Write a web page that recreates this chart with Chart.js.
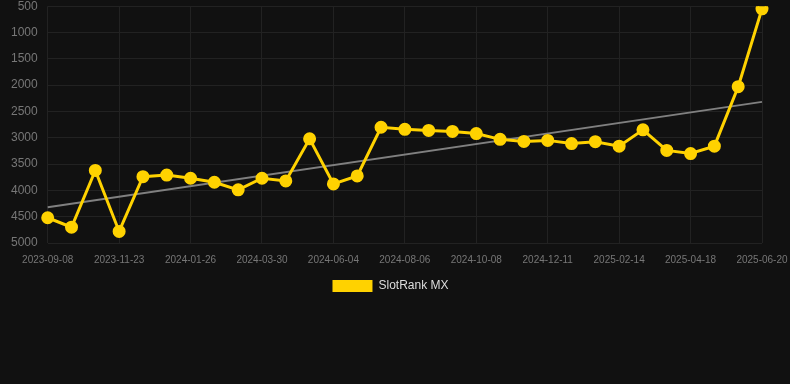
<!DOCTYPE html>
<html>
<head>
<meta charset="utf-8">
<script src="https://cdn.jsdelivr.net/npm/chart.js@4.4.1/dist/chart.umd.min.js"></script>
<style>
	html, body { margin: 0; padding: 0; background: #111111; overflow: hidden; }
	#wrap { width: 790px; height: 313px; margin-top: -11px; }
</style>
</head>
<body>
<div id="wrap"><canvas id="rankChart"></canvas></div>
<script>
const labels = [
	"2023-09-08", "2023-10-03", "2023-10-28", "2023-11-23", "2023-12-14", "2024-01-05",
	"2024-01-26", "2024-02-16", "2024-03-09", "2024-03-30", "2024-04-21", "2024-05-13",
	"2024-06-04", "2024-06-25", "2024-07-16", "2024-08-06", "2024-08-27", "2024-09-17",
	"2024-10-08", "2024-10-29", "2024-11-20", "2024-12-11", "2025-01-02", "2025-01-23",
	"2025-02-14", "2025-03-07", "2025-03-28", "2025-04-18", "2025-05-09", "2025-05-30",
	"2025-06-20",
];
const ranks = [
	4520, 4700, 3620, 4780, 3740, 3710, 3770, 3845, 3990, 3770, 3820, 3020,
	3877, 3725, 2800, 2840, 2860, 2880, 2920, 3030, 3070, 3050, 3110, 3075,
	3160, 2850, 3240, 3300, 3160, 2030, 550,
];
// trend line ends
const trendStart = 4320;
const trendEnd = 2318;
const yTicks = [500, 1000, 1500, 2000, 2500, 3000, 3500, 4000, 4500, 5000];

const trend = labels.map((_, i) => (i === 0 ? trendStart : i === labels.length - 1 ? trendEnd : null));
const font = "Arial, 'Liberation Sans', sans-serif";

const ctx = document.getElementById("rankChart").getContext("2d");
new Chart(ctx, {
	type: "line",
	data: {
		labels,
		datasets: [
			{
				label: "SlotRank MX",
				data: ranks,
				borderColor: "#FFD200",
				backgroundColor: "#FFD200",
				borderWidth: 3,
				pointRadius: 5,
				pointHoverRadius: 5,
				tension: 0,
				order: 1,
			},
			{
				label: "trend",
				data: trend,
				borderColor: "#808080",
				borderWidth: 2,
				pointRadius: 0,
				spanGaps: true,
				order: 2,
			},
		],
	},
	options: {
		responsive: true,
		maintainAspectRatio: false,
		animation: false,
		layout: { autoPadding: false, padding: { left: 1, right: 10, top: 0, bottom: 0 } },
		plugins: {
			legend: {
				position: "bottom",
				labels: {
					color: "#dddddd",
					boxWidth: 40,
					boxHeight: 12,
					padding: 3,
					font: { family: font, size: 12 },
					generateLabels: (chart) =>
						Chart.defaults.plugins.legend.labels
							.generateLabels(chart)
							.filter((item) => item.text !== "trend")
							.map((item) => ({ ...item, lineWidth: 0 })),
				},
			},
			tooltip: { enabled: false },
		},
		scales: {
			x: {
				grid: { color: "#222222", drawTicks: false },
				border: { display: false },
				afterFit: (axis) => {
					axis.paddingRight = 28;
				},
				ticks: {
					color: "#777777",
					maxRotation: 0,
					autoSkip: true,
					padding: 11,
					font: { family: font, size: 10 },
				},
			},
			y: {
				reverse: true,
				min: 500,
				max: 5000,
				afterBuildTicks: (axis) => {
					axis.ticks = yTicks.map((v) => ({ value: v }));
				},
				grid: { color: "#222222", drawTicks: false },
				border: { display: false },
				ticks: {
					color: "#777777",
					padding: 10,
					font: { family: font, size: 12 },
					callback: (v) => String(v),
				},
			},
		},
	},
});
</script>
</body>
</html>
